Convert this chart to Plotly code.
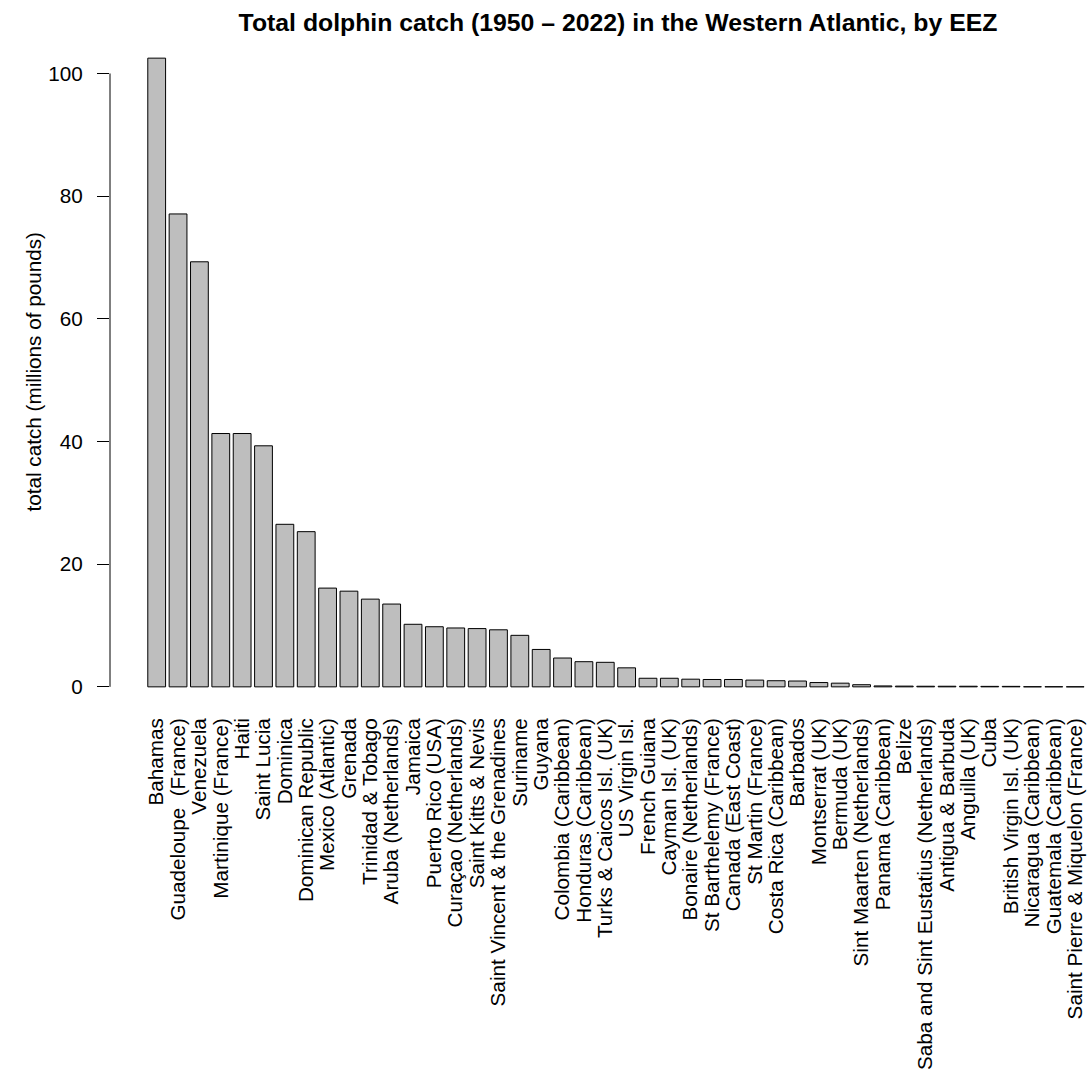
import plotly.graph_objects as go

eez = [
    "Bahamas", "Guadeloupe \u00a0(France)", "Venezuela", "Martinique (France)", "Haiti",
    "Saint Lucia", "Dominica", "Dominican Republic", "Mexico (Atlantic)", "Grenada",
    "Trinidad & Tobago", "Aruba (Netherlands)", "Jamaica", "Puerto Rico (USA)",
    "Curaçao (Netherlands)", "Saint Kitts & Nevis", "Saint Vincent & the Grenadines",
    "Suriname", "Guyana", "Colombia (Caribbean)", "Honduras (Caribbean)",
    "Turks & Caicos Isl. (UK)", "US Virgin Isl.", "French Guiana", "Cayman Isl. (UK)",
    "Bonaire (Netherlands)", "St Barthelemy (France)", "Canada (East Coast)",
    "St Martin (France)", "Costa Rica (Caribbean)", "Barbados", "Montserrat (UK)",
    "Bermuda (UK)", "Sint Maarten (Netherlands)", "Panama (Caribbean)", "Belize",
    "Saba and Sint Eustatius (Netherlands)", "Antigua & Barbuda", "Anguilla (UK)", "Cuba",
    "British Virgin Isl. (UK)", "Nicaragua (Caribbean)", "Guatemala (Caribbean)",
    "Saint Pierre & Miquelon (France)",
]
catch_mlb = [
    102.5, 77.1, 69.3, 41.3, 41.3,
    39.3, 26.5, 25.3, 16.1, 15.6,
    14.3, 13.5, 10.2, 9.8,
    9.6, 9.5, 9.3,
    8.4, 6.1, 4.7, 4.1,
    4.0, 3.1, 1.4, 1.4,
    1.25, 1.2, 1.2,
    1.1, 1.0, 0.95, 0.7,
    0.6, 0.35, 0.15, 0.12,
    0.1, 0.1, 0.1, 0.08,
    0.08, 0.02, 0.02,
    0.01,
]
y_ticks = [0, 20, 40, 60, 80, 100]

FONT = "Liberation Sans, Arial, Helvetica, sans-serif"
W, H = 1091, 1081
ML, MR, MT, MB = 110, 0, 33, 369

fig = go.Figure()
fig.add_trace(go.Bar(
    x=eez, y=catch_mlb,
    marker=dict(color="#BEBEBE", line=dict(color="#000000", width=1)),
    hoverinfo="x+y",
))

fig.update_layout(
    width=W, height=H,
    margin=dict(l=ML, r=MR, t=MT, b=MB, autoexpand=False),
    paper_bgcolor="white", plot_bgcolor="white",
    bargap=0.1667,
    showlegend=False,
    font=dict(family=FONT, size=20.7, color="black"),
    title=dict(
        text="<b>Total dolphin catch (1950 \u2013 2022) in the Western Atlantic, by EEZ</b>",
        font=dict(family=FONT, size=24.8, color="black"),
        xref="container", x=618 / W, xanchor="center",
        yref="container", y=1 - 22 / H, yanchor="middle",
    ),
    xaxis=dict(
        type="category", range=[-2.186, 43.74],
        tickmode="array", tickvals=eez, ticktext=eez,
        tickangle=-90, showgrid=False, zeroline=False, showline=False,
        ticks="", automargin=False, ticklabelstandoff=1,
        tickfont=dict(family=FONT, size=20.7, color="black"),
    ),
    yaxis=dict(
        range=[-4.1, 106.6], tickvals=y_ticks, ticktext=[str(v) for v in y_ticks],
        showgrid=False, zeroline=False, showline=False,
        ticks="outside", ticklen=12, tickwidth=1, tickcolor="black",
        ticklabelstandoff=10, automargin=False,
        tickfont=dict(family=FONT, size=20.7, color="black"),
    ),
    shapes=[dict(
        type="line", xref="paper", x0=0, x1=0, yref="y", y0=y_ticks[0], y1=y_ticks[-1],
        line=dict(color="black", width=1),
    )],
    annotations=[dict(
        text="total catch (millions of pounds)", textangle=-90,
        xref="paper", x=(33 - ML) / (W - ML - MR), xanchor="center",
        yref="paper", y=0.5, yanchor="middle", showarrow=False,
        font=dict(family=FONT, size=20.7, color="black"),
    )],
)

fig.write_html(
    "out.html",
    config={"displayModeBar": False},
    post_script="document.body.style.margin='0';document.body.style.overflow='hidden';",
)
